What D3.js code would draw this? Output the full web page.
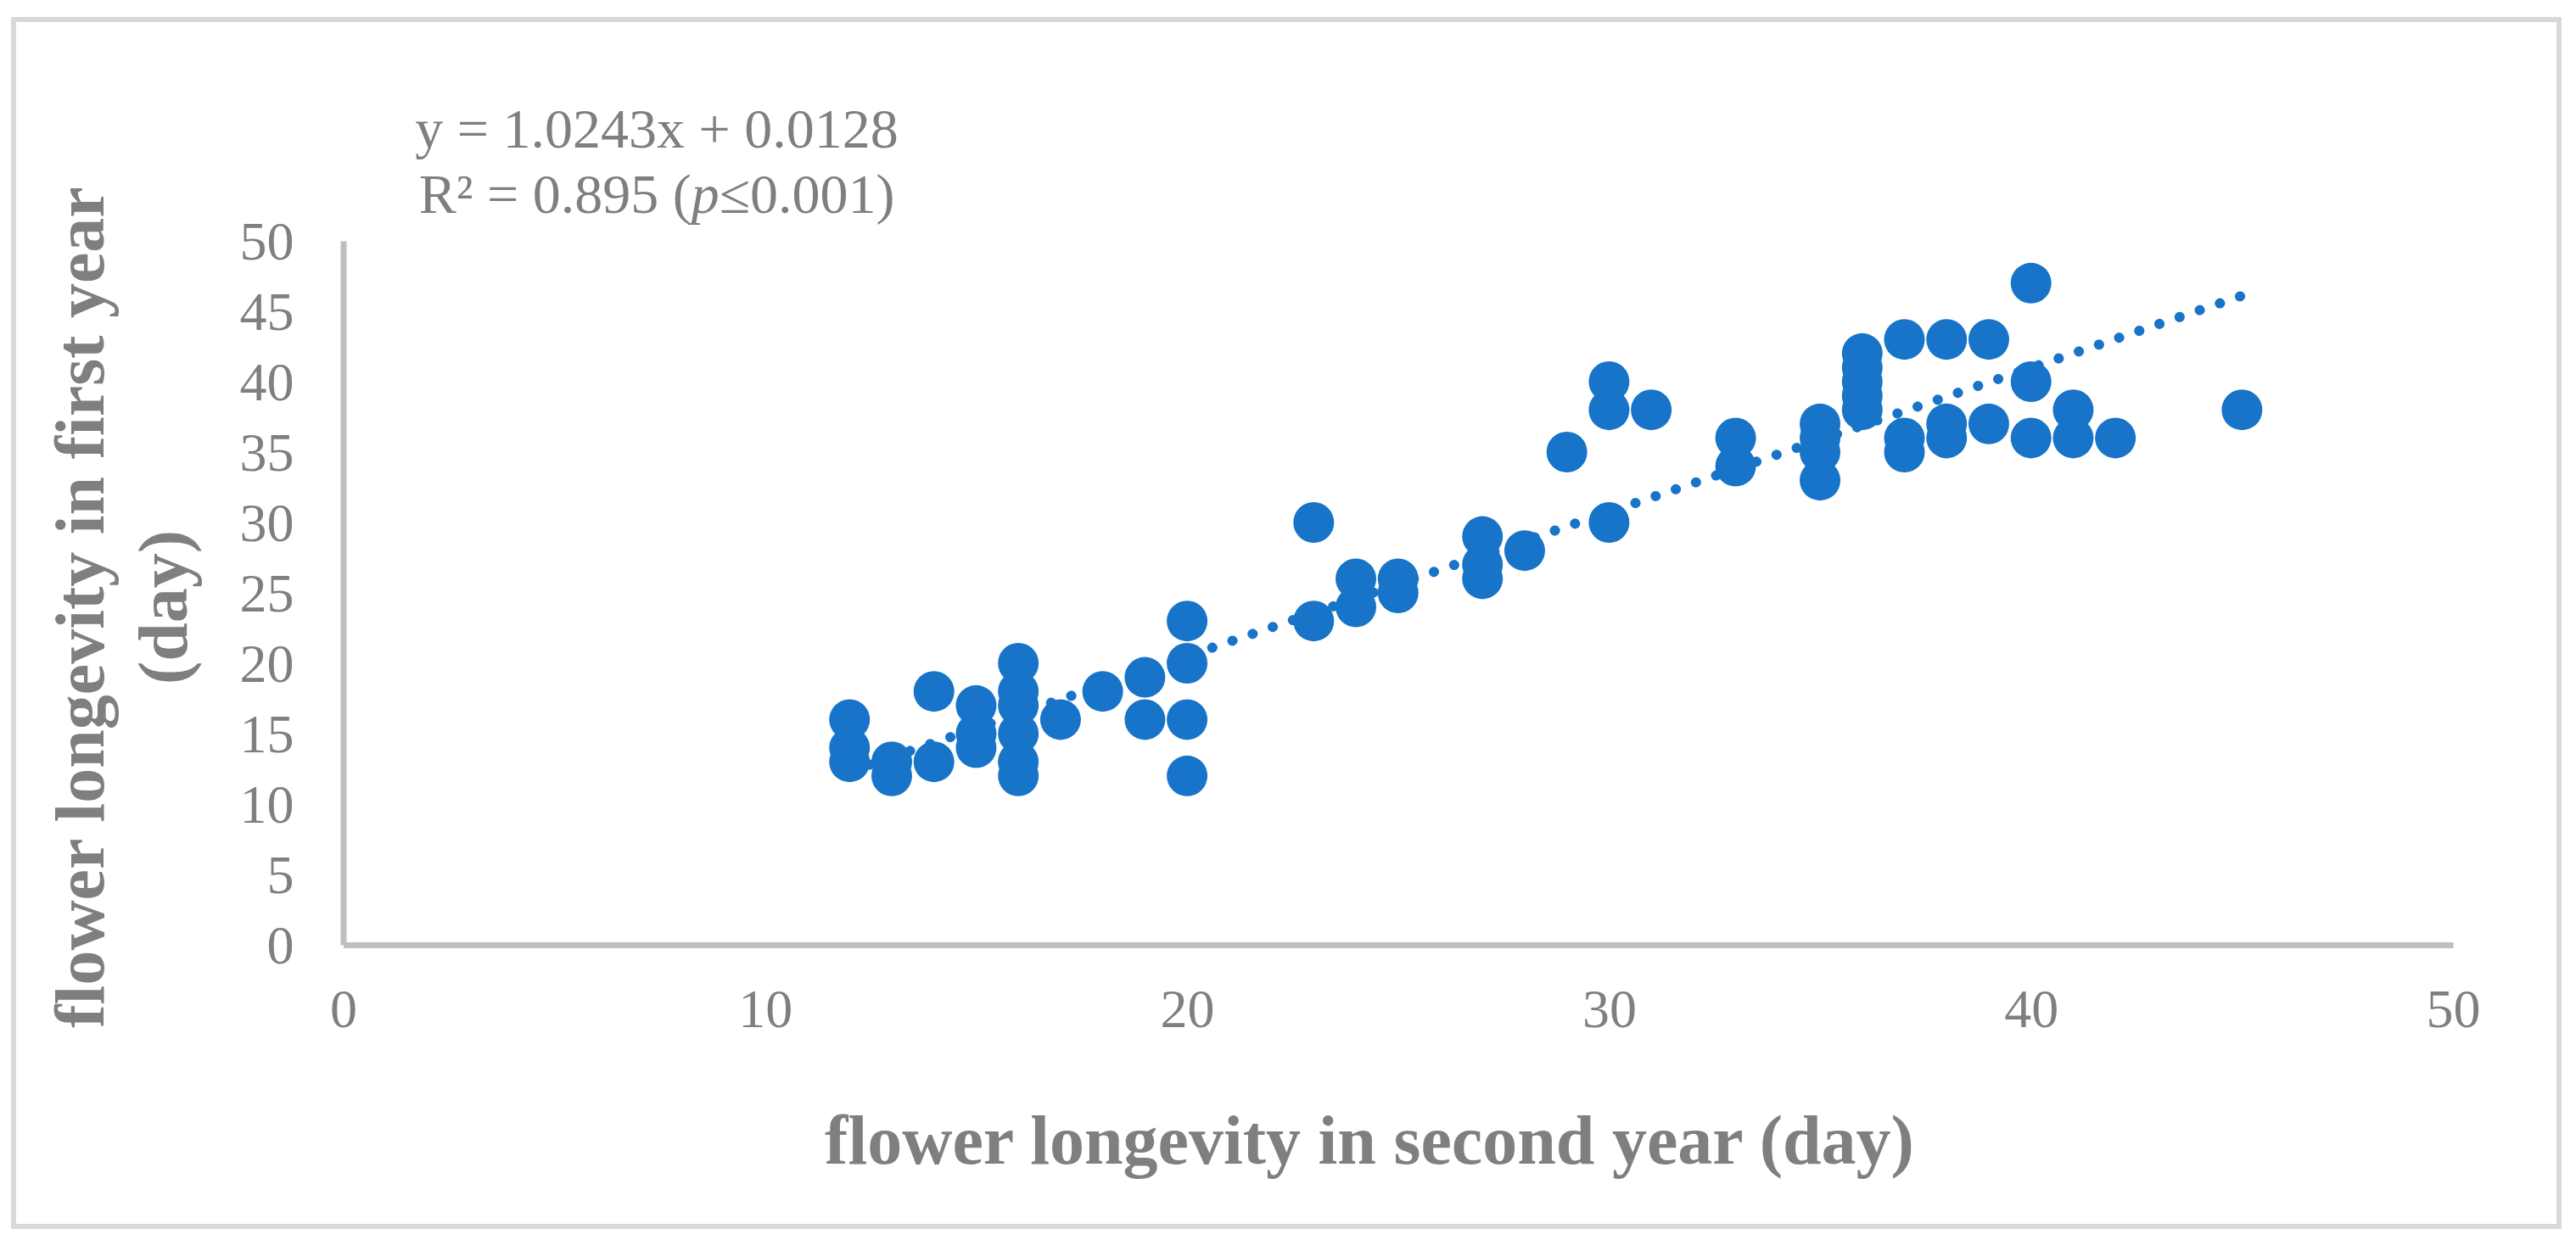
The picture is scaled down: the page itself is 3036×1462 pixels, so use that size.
<!DOCTYPE html>
<html>
<head>
<meta charset="utf-8">
<script src="https://cdn.jsdelivr.net/npm/d3@7"></script>
<style>
  html, body { margin: 0; padding: 0; background: #fff; }
  svg text { font-family: "Liberation Serif", "Times New Roman", serif; fill: #7f7f7f; }
</style>
</head>
<body>
<svg id="chart" width="3036" height="1462"></svg>
<script>
// flower longevity (days): second year on x, first year on y
const secondYear = [
  12, 12, 12, 13, 13, 14, 14, 15, 15, 15,
  16, 16, 16, 16, 16, 16, 17, 18, 19, 19,
  20, 20, 20, 20, 23, 23, 24, 24, 25, 25,
  27, 27, 27, 28, 29, 30, 30, 30, 31, 33,
  33, 35, 35, 35, 35, 36, 36, 36, 36, 36,
  37, 37, 37, 38, 38, 38, 39, 39, 40, 40,
  40, 41, 41, 42, 45
];
const firstYear = [
  16, 14, 13, 13, 12, 18, 13, 17, 15, 14,
  20, 18, 17, 15, 13, 12, 16, 18, 19, 16,
  23, 20, 16, 12, 30, 23, 26, 24, 26, 25,
  29, 27, 26, 28, 35, 40, 38, 30, 38, 36,
  34, 37, 36, 35, 33, 42, 41, 40, 39, 38,
  43, 36, 35, 43, 37, 36, 43, 37, 47, 40,
  36, 38, 36, 36, 38
];
const xTicks = [0, 10, 20, 30, 40, 50];
const yTicks = [0, 5, 10, 15, 20, 25, 30, 35, 40, 45, 50];
const slope = 1.0243;
const intercept = 0.0128;
const eqLines = ['y = 1.0243x + 0.0128', 'R² = 0.895 (p≤0.001)'];

const svg = d3.select('#chart');
const plotLeft = 404.5, plotRight = 2891, plotTop = 284, plotBottom = 1114;

// outer frame
svg.append('rect')
  .attr('x', 16).attr('y', 23)
  .attr('width', 3000).attr('height', 1423)
  .attr('fill', 'none')
  .attr('stroke', '#d9d9d9')
  .attr('stroke-width', 6);

const x = d3.scaleLinear().domain([0, 50]).range([plotLeft, plotRight]);
const y = d3.scaleLinear().domain([0, 50]).range([plotBottom, plotTop]);

const xAxis = d3.axisBottom(x).tickValues(xTicks).tickSize(0).tickSizeOuter(0);
const yAxis = d3.axisLeft(y).tickValues(yTicks).tickSize(0).tickSizeOuter(0);

const gx = svg.append('g')
  .attr('transform', `translate(0,${plotBottom})`)
  .call(xAxis);
gx.select('.domain').attr('stroke', '#bfbfbf').attr('stroke-width', 7);
gx.selectAll('text')
  .attr('y', 97).attr('dy', 0)
  .style('font-size', '64px')
  .style('font-family', '"Liberation Serif", "Times New Roman", serif')
  .attr('fill', '#7f7f7f');

const gy = svg.append('g')
  .attr('transform', `translate(${plotLeft},0)`)
  .call(yAxis);
gy.select('.domain').attr('stroke', '#bfbfbf').attr('stroke-width', 7);
gy.selectAll('text')
  .attr('x', -58).attr('dy', '0.33em')
  .style('font-size', '64px')
  .style('font-family', '"Liberation Serif", "Times New Roman", serif')
  .attr('fill', '#7f7f7f');

// points
const pts = secondYear.map((d, i) => [d, firstYear[i]]);
svg.append('g')
  .selectAll('circle')
  .data(pts)
  .enter()
  .append('circle')
    .attr('cx', d => x(d[0]))
    .attr('cy', d => y(d[1]))
    .attr('r', 24)
    .attr('fill', '#1874c8');

// linear trendline (dotted)
const xMin = d3.min(secondYear), xMax = d3.max(secondYear);
svg.append('line')
  .attr('x1', x(xMin)).attr('y1', y(slope * xMin + intercept))
  .attr('x2', x(xMax)).attr('y2', y(slope * xMax + intercept))
  .attr('stroke', '#1874c8')
  .attr('stroke-width', 12)
  .attr('stroke-linecap', 'round')
  .attr('stroke-dasharray', '0.1 25');

// equation
svg.append('g')
  .selectAll('text')
  .data(eqLines)
  .enter()
  .append('text')
    .attr('x', 774)
    .attr('y', (d, i) => 174 + i * 77)
    .attr('text-anchor', 'middle')
    .style('font-size', '66px')
    .each(function (d, i) {
      const t = d3.select(this);
      if (i === 0) { t.text(d); return; }
      t.append('tspan').text('R² = 0.895 (');
      t.append('tspan').style('font-style', 'italic').text('p');
      t.append('tspan').text('≤0.001)');
    });

// axis titles
svg.append('text')
  .attr('x', 1614)
  .attr('y', 1372)
  .attr('text-anchor', 'middle')
  .style('font-size', '82px')
  .style('font-weight', 'bold')
  .text('flower longevity in second year (day)');

const yTitle = svg.append('text')
  .attr('transform', 'translate(0,716) rotate(-90)')
  .attr('text-anchor', 'middle')
  .style('font-size', '82px')
  .style('font-weight', 'bold');
yTitle.append('tspan').attr('x', 0).attr('y', 122).text('flower longevity in first year');
yTitle.append('tspan').attr('x', 0).attr('y', 220).text('(day)');
</script>
</body>
</html>
